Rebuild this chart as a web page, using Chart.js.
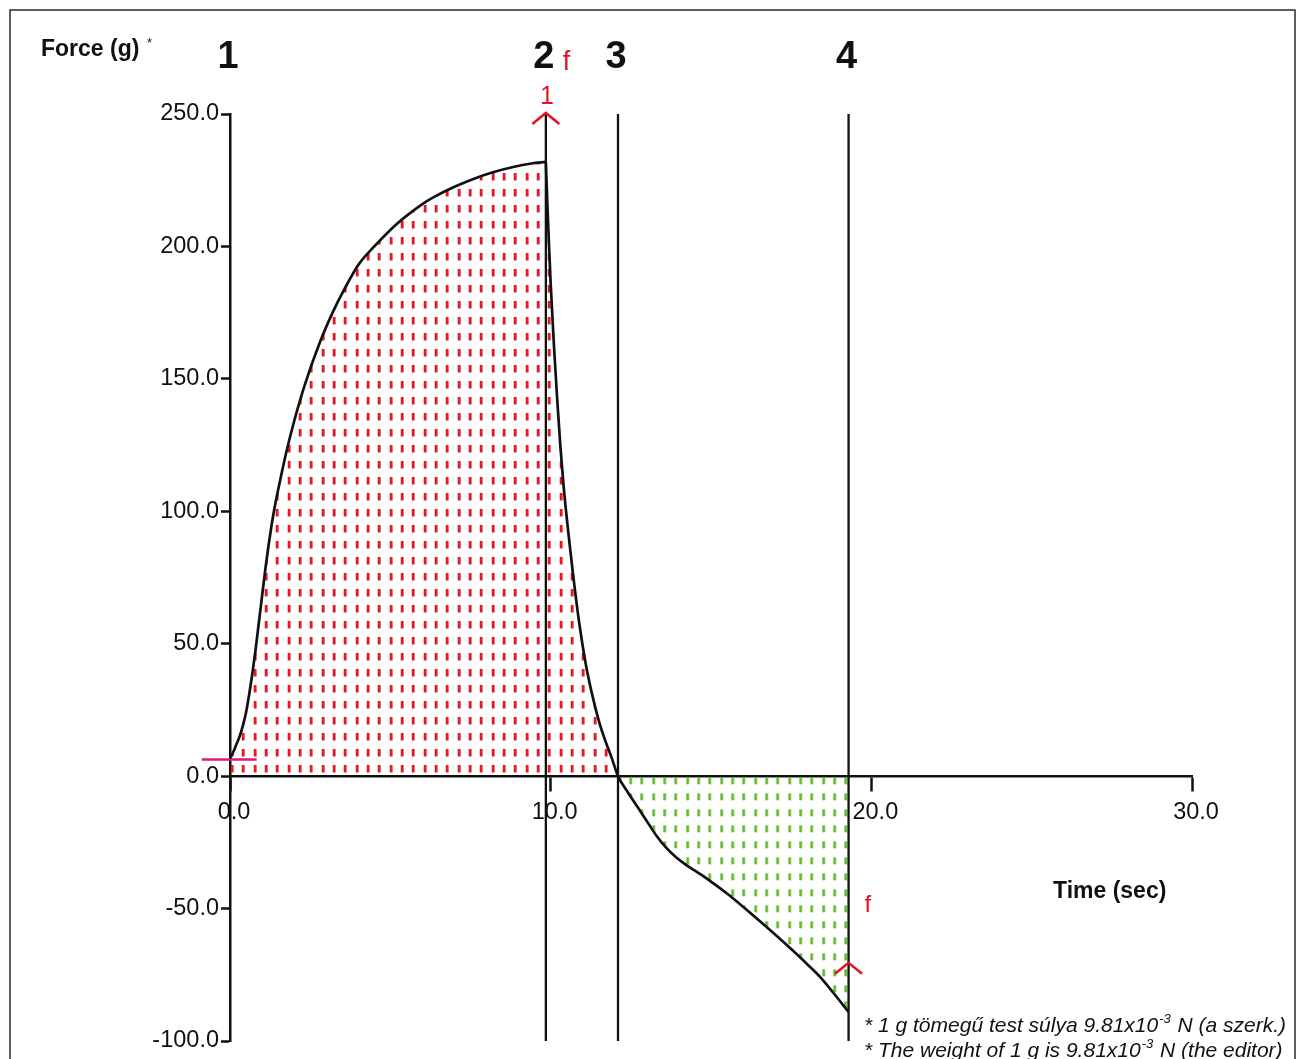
<!DOCTYPE html>
<html><head><meta charset="utf-8">
<script src="https://cdn.jsdelivr.net/npm/chart.js@4.4.1/dist/chart.umd.min.js"></script>
<style>html,body{margin:0;padding:0;background:#fff;} canvas{display:block;}</style>
</head><body>
<canvas id="c" width="1299" height="1059"></canvas>
<script>
// ---- data ----
const riseTime  = [0, 0.1, 0.2, 0.3, 0.4, 0.5, 0.6, 0.7, 0.8, 0.9, 1.0, 1.1, 1.2, 1.3, 1.4, 1.5, 1.75, 2.0, 2.34, 2.81, 3.2, 3.53, 4.0, 4.5, 5.2, 6.0, 6.34, 7.0, 7.59, 8.2, 8.83, 9.4, 9.85];
const riseForce = [6.7, 9, 12, 15, 19, 24, 31, 39, 48, 58, 68, 78, 87, 95, 102, 108, 122, 134, 148, 164, 175, 183, 193, 200, 208.5, 216, 218.5, 222.5, 225.5, 228, 230, 231.3, 231.9];
const fallTime  = [9.85, 9.90, 9.95, 10.0, 10.1, 10.2, 10.3, 10.4, 10.55, 10.7, 10.9, 11.1, 11.3, 11.5, 11.7, 11.9, 12.1, 12.4, 12.7, 13.0, 13.3, 13.6, 13.9, 14.2, 14.6, 15.0, 15.5, 16.0, 16.5, 17.0, 17.5, 18.0, 18.4, 18.8, 19.29];
const fallForce = [231.9, 215, 200, 186, 163, 143, 125, 110, 92, 76, 57, 42, 30.5, 21, 13.5, 7, 0, -6, -11.5, -17, -22.5, -27, -30.5, -33.3, -36.5, -39.8, -44.3, -49.3, -54.5, -59.8, -65.3, -71, -75.8, -81.6, -89];
const markerTimes  = [0, 9.85, 12.10, 19.29];
const markerLabels = ['1', '2', '3', '4'];
const baselineTime  = [-0.88, 0.83];
const baselineForce = [6.3, 6.3];
const xTickValues = [0, 10, 20, 30];
const yTickValues = [-100, -50, 0, 50, 100, 150, 200, 250];
const yMin = -100, yMax = 250, xMin = 0, xMax = 30;
const arrowForce = [250, -70.5]; // arrow tips on marker lines 2 and 4

// ---- helpers ----
const ctx0 = document.getElementById('c').getContext('2d');
function hatch(color, tx, ty, dashLen) {
  const c = document.createElement('canvas');
  c.width = 34; c.height = 16;
  const g = c.getContext('2d');
  g.fillStyle = color;
  [0, 11, 23].forEach(x => g.fillRect(x, 0, 2.8, dashLen));
  const p = ctx0.createPattern(c, 'repeat');
  p.setTransform(new DOMMatrix([1, 0, 0, 1, tx, ty]));
  return p;
}
const redHatch = hatch('#e3141f', 230.7, 765, 7.5);
const greenHatch = hatch('#66bb33', 629.3, 777.3, 7);

const pts = (xs, ys) => xs.map((x, i) => ({x, y: ys[i]}));
const vline = t => [{x: t, y: yMin}, {x: t, y: yMax}];

const curveStyle = {
  borderColor: '#111', borderWidth: 2.7, pointRadius: 0,
  cubicInterpolationMode: 'monotone',
  fill: {target: 'origin', above: redHatch, below: greenHatch}
};
const lineStyle = {borderColor: '#111', borderWidth: 2.3, pointRadius: 0, fill: false};

const datasets = [
  Object.assign({label: 'rise', data: pts(riseTime, riseForce)}, curveStyle),
  Object.assign({label: 'fall', data: pts(fallTime, fallForce)}, curveStyle),
  {label: 'baseline', data: pts(baselineTime, baselineForce), borderColor: '#e0157f', borderWidth: 2.6, pointRadius: 0, fill: false, clip: false}
];
markerTimes.slice(1).forEach((t, i) => datasets.push(Object.assign({label: 'm' + (i + 2), data: vline(t)}, lineStyle)));

const FONT = '"Liberation Sans", Arial, Helvetica, sans-serif';

const decor = {
  id: 'decor',
  beforeDraw(chart) {
    const c = chart.ctx;
    c.save();
    c.fillStyle = '#fff';
    c.fillRect(0, 0, chart.width, chart.height);
    c.strokeStyle = '#2a2a2a';
    c.lineWidth = 1.5;
    c.strokeRect(10, 10, 1285, 1100);
    c.restore();
  },
  afterDraw(chart) {
    const c = chart.ctx, xs = chart.scales.x, ys = chart.scales.y;
    c.save();
    c.textBaseline = 'alphabetic';
    // y-axis title
    c.fillStyle = '#111';
    c.font = 'bold 23px ' + FONT;
    c.textAlign = 'left';
    c.fillText('Force (g)', 41, 56);
    c.font = '13px ' + FONT;
    c.fillText('*', 147, 47);
    // big marker labels
    c.font = 'bold 38px ' + FONT;
    c.textAlign = 'center';
    markerLabels.forEach((lab, i) => c.fillText(lab, xs.getPixelForValue(markerTimes[i]) - 2, 68));
    // red annotations
    c.fillStyle = '#e3141f';
    c.strokeStyle = '#e3141f';
    c.lineWidth = 2.6;
    const x2 = xs.getPixelForValue(markerTimes[1]);
    const x4 = xs.getPixelForValue(markerTimes[3]);
    c.textAlign = 'left';
    c.font = '27px ' + FONT;
    c.fillText('f', x2 + 17, 70);
    c.font = '25px ' + FONT;
    c.textAlign = 'center';
    c.fillText('1', x2 + 1, 104);
    c.font = '24px ' + FONT;
    c.textAlign = 'left';
    c.fillText('f', x4 + 16, 912);
    const chevron = (x, y) => {
      c.beginPath();
      c.moveTo(x - 13.5, y + 11);
      c.lineTo(x, y);
      c.lineTo(x + 13.5, y + 11);
      c.stroke();
    };
    chevron(x2, ys.getPixelForValue(arrowForce[0]) - 1);
    chevron(x4, ys.getPixelForValue(arrowForce[1]));
    // x-axis title
    c.fillStyle = '#111';
    c.font = 'bold 23px ' + FONT;
    c.textAlign = 'left';
    c.fillText('Time (sec)', 1053, 898);
    // footnotes
    const foot = (pre, post, x, y) => {
      c.font = 'italic 21px ' + FONT;
      c.fillText(pre, x, y);
      let w = c.measureText(pre).width;
      c.font = 'italic 13px ' + FONT;
      c.fillText('-3', x + w + 1, y - 9);
      w += c.measureText('-3').width + 2;
      c.font = 'italic 21px ' + FONT;
      c.fillText(post, x + w, y);
    };
    foot('* 1 g tömegű test súlya 9.81x10', ' N (a szerk.)', 864, 1032);
    foot('* The weight of 1 g is 9.81x10', ' N (the editor)', 864, 1057);
    c.restore();
  }
};

new Chart(ctx0, {
  type: 'line',
  data: {datasets},
  options: {
    responsive: false,
    animation: false,
    devicePixelRatio: 1,
    layout: {padding: {left: 0, top: 114, right: 107, bottom: 18}},
    plugins: {legend: {display: false}, tooltip: {enabled: false}, filler: {drawTime: 'beforeDatasetsDraw'}},
    scales: {
      x: {
        type: 'linear', min: xMin, max: xMax,
        position: {y: 0},
        afterBuildTicks: s => { s.ticks = xTickValues.map(v => ({value: v})); },
        afterFit: s => { s.height = 0; },
        ticks: {callback: v => Number(v).toFixed(1), font: {size: 23.5, family: FONT}, color: '#111', padding: 8, maxRotation: 0, labelOffset: 4},
        grid: {drawOnChartArea: false, drawTicks: true, tickLength: 14, tickWidth: 2.5, tickColor: '#111'},
        border: {display: true, color: '#111', width: 2.5}
      },
      y: {
        type: 'linear', min: yMin, max: yMax,
        afterBuildTicks: s => { s.ticks = yTickValues.map(v => ({value: v})); },
        afterFit: s => { s.width = 230; },
        ticks: {callback: v => Number(v).toFixed(1), font: {size: 23.5, family: FONT}, color: '#111', padding: 2},
        grid: {drawOnChartArea: false, drawTicks: true, tickLength: 9, tickWidth: 2.5, tickColor: '#111'},
        border: {display: true, color: '#111', width: 2.5}
      }
    }
  },
  plugins: [decor]
});
</script>
</body></html>
